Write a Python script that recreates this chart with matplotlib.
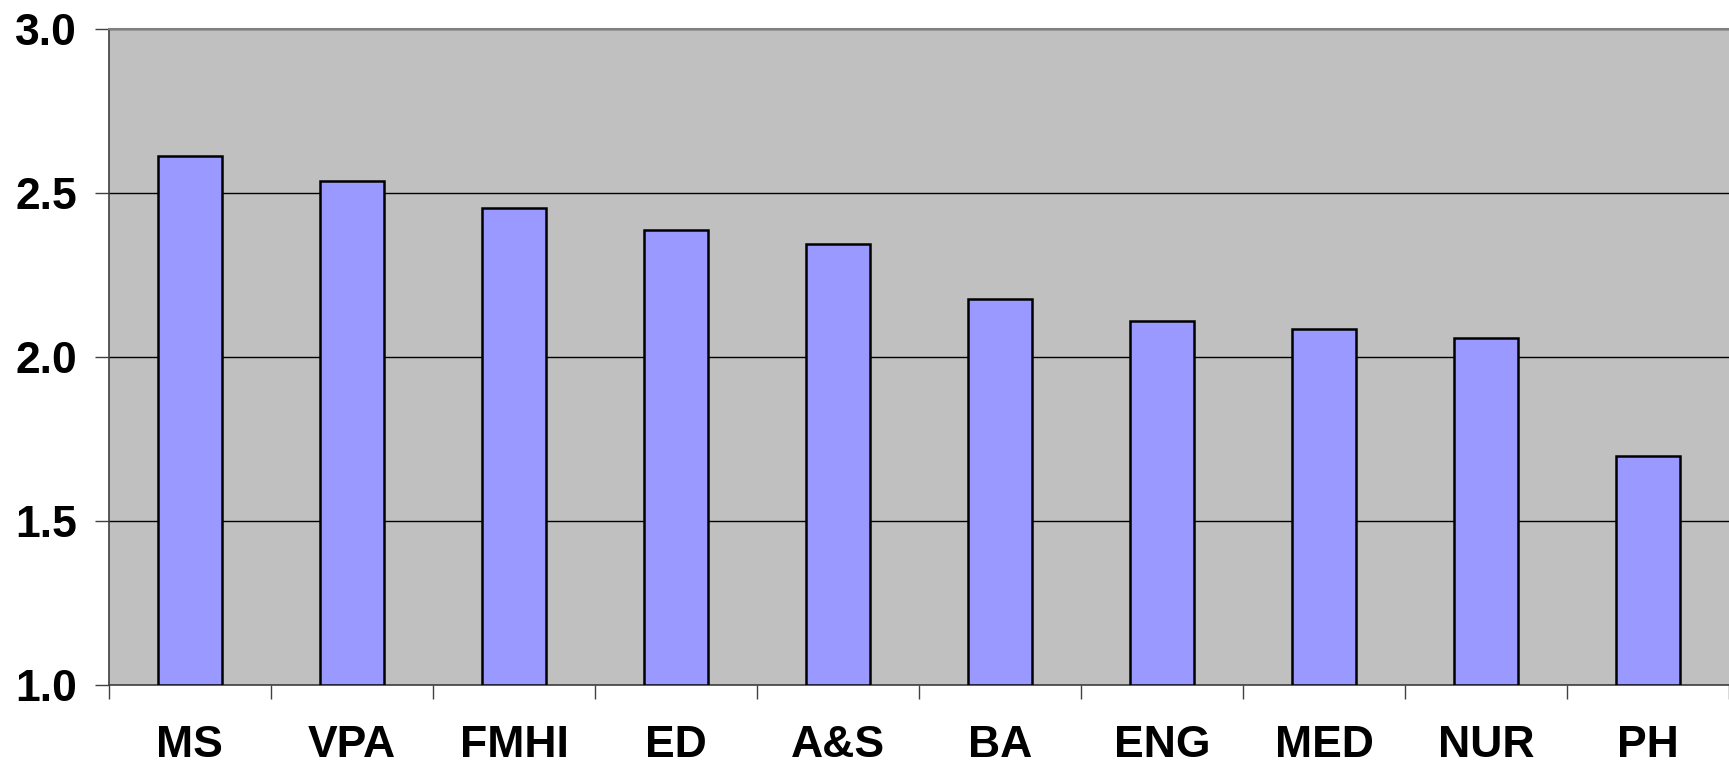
import matplotlib.pyplot as plt
import numpy as np

categories = ['MS', 'VPA', 'FMHI', 'ED', 'A&S', 'BA', 'ENG', 'MED', 'NUR', 'PH']
values = [2.614, 2.536, 2.456, 2.389, 2.345, 2.177, 2.110, 2.087, 2.057, 1.700]
y_ticks = [1.0, 1.5, 2.0, 2.5, 3.0]

plt.rcParams['font.family'] = ['Liberation Sans', 'DejaVu Sans']
plt.rcParams['font.weight'] = 'bold'

fig = plt.figure(figsize=(17.29, 7.68), dpi=100)
ax = fig.add_axes([0.063, 0.108, 0.937, 0.854])
ax.set_facecolor('#C0C0C0')

x = np.arange(len(categories)) + 0.5
ax.bar(x, np.array(values) - 1.0, bottom=1.0, width=0.4,
       color='#9999FF', edgecolor='black', linewidth=1.8, zorder=3)

ax.set_ylim(1.0, 3.0)
ax.set_xlim(0, len(categories))
ax.set_yticks(y_ticks)
ax.set_yticklabels(['%.1f' % v for v in y_ticks], fontsize=32, fontweight='bold')
ax.yaxis.grid(True, color='black', linewidth=1.0, zorder=1)
ax.set_axisbelow(True)

ax.set_xticks(np.arange(len(categories) + 1))
ax.set_xticklabels([])
ax.set_xticks(x, minor=True)
ax.set_xticklabels(categories, minor=True, fontsize=32, fontweight='bold')
ax.tick_params(axis='x', which='minor', length=0, pad=29)
ax.tick_params(axis='x', which='major', length=10, width=1.0, direction='out', color='#404040')
ax.tick_params(axis='y', length=10, width=1.0, pad=13, color='#404040')

ax.spines['right'].set_visible(False)
ax.spines['top'].set_color('#808080')
ax.spines['top'].set_linewidth(1.5)
ax.spines['left'].set_color('#404040')
ax.spines['left'].set_linewidth(1.2)
ax.spines['bottom'].set_color('#404040')
ax.spines['bottom'].set_linewidth(1.2)

fig.savefig('out.png', dpi=100)
